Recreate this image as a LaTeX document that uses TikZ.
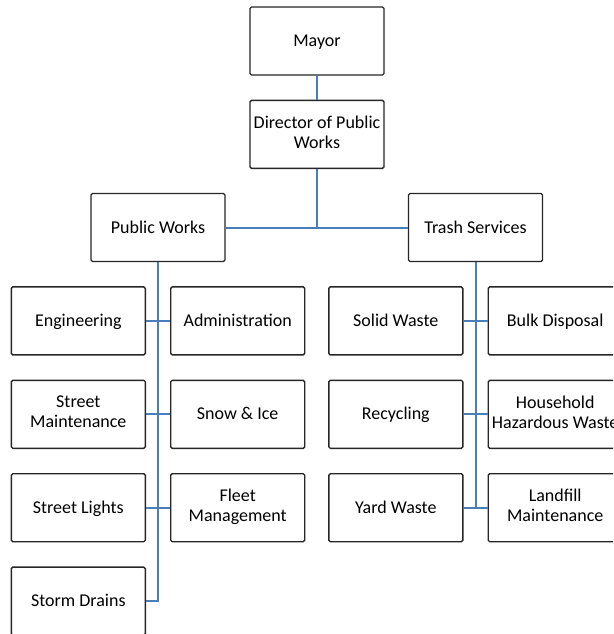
\documentclass[tikz,border=0pt]{standalone}
\usepackage{fontspec}
\setmainfont{Carlito}
\usepackage{xcolor}
\usepackage{tikz}
\usetikzlibrary{positioning}

\definecolor{linkblue}{RGB}{74,126,187}
\newcommand\boxstrut{\rule[-5pt]{0pt}{21pt}}

\begin{document}
\begin{tikzpicture}[
  x=1pt, y=1pt,
  unit/.style={draw=black!85, line width=1.4pt, rounded corners=1.5pt, fill=white,
    minimum width=134pt, minimum height=68pt, inner sep=0pt, align=center,
    font=\fontsize{18}{20}\selectfont,
    execute at begin node=\boxstrut, execute at end node=\boxstrut},
  link/.style={draw=linkblue, line width=2pt},
  node distance=24pt,
]
  \clip (0,0) rectangle (613,-634);

  % top of the chart
  \node[unit] (mayor) at (317,-41) {Mayor};
  \node[unit, below=of mayor] (director) {Director of Public\\Works};
  \node[unit] (pw) at (158,-227.5) {Public Works};
  \node[unit] (trash) at (475.5,-227.5) {Trash Services};

  % public works branch
  \node[unit, below left=24pt and 12pt of pw.south, anchor=north east] (eng) {Engineering};
  \node[unit, below right=24pt and 12pt of pw.south, anchor=north west] (admin) {Administration};
  \node[unit, below=of eng] (street) {Street\\Maintenance};
  \node[unit, below=of admin] (snow) {Snow \& Ice};
  \node[unit, below=of street] (lights) {Street Lights};
  \node[unit, below=of snow] (fleet) {Fleet\\Management};
  \node[unit, below=of lights] (storm) {Storm Drains};

  % trash services branch
  \node[unit, below left=24pt and 12pt of trash.south, anchor=north east] (solid) {Solid Waste};
  \node[unit, below right=24pt and 12pt of trash.south, anchor=north west] (bulk) {Bulk Disposal};
  \node[unit, below=of solid] (recycle) {Recycling};
  \node[unit, below=of bulk] (hazard) {Household\\Hazardous Waste};
  \node[unit, below=of recycle] (yard) {Yard Waste};
  \node[unit, below=of hazard] (landfill) {Landfill\\Maintenance};

  \draw[link] (mayor) -- (director);
  \draw[link] (director.south) -- (director.south |- pw.east);
  \draw[link] (pw.east) -- (trash.west);

  \draw[link] (pw.south) |- (storm.east);
  \draw[link] (eng.east) -- (admin.west);
  \draw[link] (street.east) -- (snow.west);
  \draw[link] (lights.east) -- (fleet.west);

  \draw[link] (trash.south) -- (trash.south |- yard.east);
  \draw[link] (solid.east) -- (bulk.west);
  \draw[link] (recycle.east) -- (hazard.west);
  \draw[link] (yard.east) -- (landfill.west);
\end{tikzpicture}
\end{document}
